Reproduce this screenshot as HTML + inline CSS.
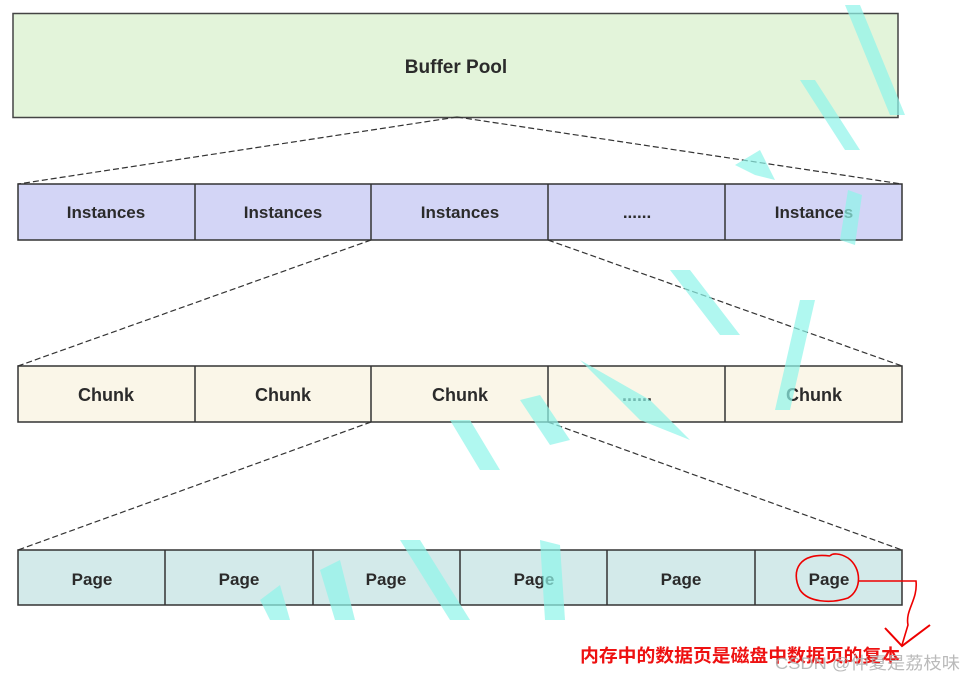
<!DOCTYPE html>
<html><head><meta charset="utf-8"><style>
html,body{margin:0;padding:0;background:#fff;}
svg{display:block;}
text{font-family:"Liberation Sans","Noto Sans CJK SC",sans-serif;font-weight:bold;fill:#2b2b2b;}
</style></head><body>
<svg width="963" height="680" viewBox="0 0 963 680" xmlns="http://www.w3.org/2000/svg">
<rect x="13" y="13.5" width="885" height="104" fill="#e3f4da" stroke="#444" stroke-width="1.5"/>
<text x="456" y="73" font-size="19" text-anchor="middle">Buffer Pool</text>
<g stroke="#333" stroke-width="1.2" stroke-dasharray="6,3" fill="none">
<line x1="457" y1="117" x2="18" y2="184"/>
<line x1="457" y1="117" x2="902" y2="184"/>
<line x1="371" y1="240" x2="18" y2="366"/>
<line x1="548" y1="240" x2="902" y2="366"/>
<line x1="371" y1="422" x2="18" y2="550"/>
<line x1="548" y1="422" x2="902" y2="550"/>
</g>
<rect x="18" y="184" width="884" height="56" fill="#d3d5f6" stroke="#333" stroke-width="1.5"/>
<g stroke="#333" stroke-width="1.5"><line x1="195" y1="184" x2="195" y2="240"/><line x1="371" y1="184" x2="371" y2="240"/><line x1="548" y1="184" x2="548" y2="240"/><line x1="725" y1="184" x2="725" y2="240"/></g>
<g font-size="17" text-anchor="middle">
<text x="106" y="218">Instances</text><text x="283" y="218">Instances</text><text x="460" y="218">Instances</text><text x="637" y="218">......</text><text x="814" y="218">Instances</text>
</g>
<rect x="18" y="366" width="884" height="56" fill="#faf6e8" stroke="#333" stroke-width="1.5"/>
<g stroke="#333" stroke-width="1.5"><line x1="195" y1="366" x2="195" y2="422"/><line x1="371" y1="366" x2="371" y2="422"/><line x1="548" y1="366" x2="548" y2="422"/><line x1="725" y1="366" x2="725" y2="422"/></g>
<g font-size="18" text-anchor="middle">
<text x="106" y="401">Chunk</text><text x="283" y="401">Chunk</text><text x="460" y="401">Chunk</text><text x="637" y="401">......</text><text x="814" y="401">Chunk</text>
</g>
<rect x="18" y="550" width="884" height="55" fill="#d3eaea" stroke="#333" stroke-width="1.5"/>
<g stroke="#333" stroke-width="1.5"><line x1="165" y1="550" x2="165" y2="605"/><line x1="313" y1="550" x2="313" y2="605"/><line x1="460" y1="550" x2="460" y2="605"/><line x1="607" y1="550" x2="607" y2="605"/><line x1="755" y1="550" x2="755" y2="605"/></g>
<g font-size="17" text-anchor="middle">
<text x="92" y="585">Page</text><text x="239" y="585">Page</text><text x="386" y="585">Page</text><text x="534" y="585">Page</text><text x="681" y="585">Page</text><text x="829" y="585">Page</text>
</g>
<g fill="#8ff5ea" opacity="0.7">
<polygon points="845,5 860,5 905,115 890,115"/>
<polygon points="800,80 815,80 860,150 845,150"/>
<polygon points="848,190 862,195 855,245 840,240"/>
<polygon points="735,165 760,150 775,180 755,175"/>
<polygon points="670,270 690,270 740,335 720,335"/>
<polygon points="580,360 650,400 690,440 640,420"/>
<polygon points="800,300 815,300 790,410 775,410"/>
<polygon points="450,420 470,420 500,470 480,470"/>
<polygon points="520,400 540,395 570,440 550,445"/>
<polygon points="400,540 420,540 470,620 450,620"/>
<polygon points="260,600 280,585 290,620 270,620"/>
<polygon points="320,570 340,560 355,620 335,620"/>
<polygon points="540,540 560,545 565,620 545,620"/>
</g>
<path d="M830,556 C800,552 790,570 800,590 C808,602 830,604 848,598 C862,590 862,568 848,558 C840,553 832,553 830,556" fill="none" stroke="#e00" stroke-width="1.6"/>
<path d="M858,581 L916,581 C918,600 905,610 908,625 L902,645" fill="none" stroke="#e00" stroke-width="1.6"/>
<path d="M885,628 L902,646 L930,625" fill="none" stroke="#e00" stroke-width="2"/>
<text x="580" y="662" font-size="18" textLength="320" lengthAdjust="spacingAndGlyphs" style="fill:#ee1111">内存中的数据页是磁盘中数据页的复本</text>
<text x="775" y="669" font-size="17" textLength="185" lengthAdjust="spacingAndGlyphs" style="fill:#aaa;font-weight:normal" opacity="0.8">CSDN @仲夏是荔枝味</text>
</svg>
</body></html>
